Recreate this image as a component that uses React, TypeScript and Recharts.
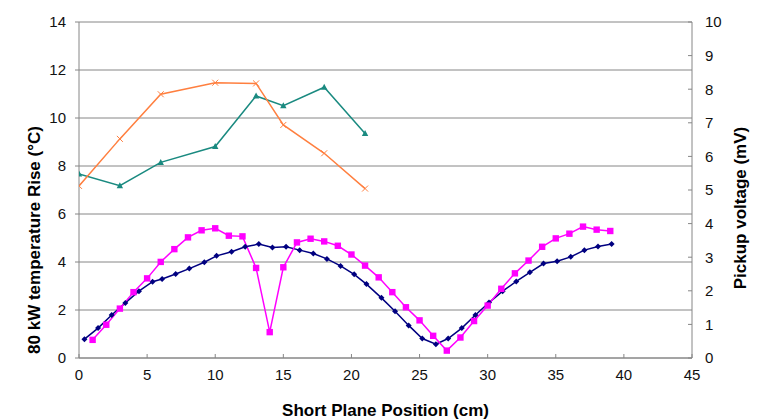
import { ComposedChart, Line, XAxis, YAxis, CartesianGrid } from "recharts";

// x positions (cm)
const tempX = [0, 3, 6, 10, 13, 15, 18, 21];
const orangeRise = [7.17, 9.13, 10.99, 11.47, 11.44, 9.71, 8.53, 7.06];
const tealRise = [7.67, 7.18, 8.15, 8.81, 10.92, 10.51, 11.28, 9.35];

const magentaX = [
  1, 2, 3, 4, 5, 6, 7, 8, 9, 10, 11, 12, 13, 14, 15, 16, 17, 18, 19, 20,
  21, 22, 23, 24, 25, 26, 27, 28, 29, 30, 31, 32, 33, 34, 35, 36, 37, 38, 39,
];
const magentaMv = [
  0.54, 0.99, 1.47, 1.96, 2.37, 2.86, 3.24, 3.59, 3.8, 3.86, 3.64, 3.62, 2.68,
  0.77, 2.7, 3.44, 3.55, 3.47, 3.34, 3.08, 2.75, 2.4, 1.96, 1.51, 1.12, 0.66,
  0.22, 0.61, 1.1, 1.56, 2.06, 2.52, 2.9, 3.31, 3.56, 3.7, 3.91, 3.82, 3.78,
];

const navyX = [
  0.4, 1.4, 2.4, 3.4, 4.4, 5.4, 6.1, 7.1, 8.1, 9.2, 10.1, 11.2, 12.2, 13.2,
  14.2, 15.2, 16.2, 17.2, 18.2, 19.2, 20.2, 21.1, 22.2, 23.2, 24.2, 25.2, 26.2,
  27.1, 28.1, 29.1, 30.1, 31.1, 32.1, 33.1, 34.1, 35.1, 36.1, 37.1, 38.1, 39.1,
];
const navyMv = [
  0.56, 0.89, 1.28, 1.64, 1.99, 2.27, 2.35, 2.5, 2.66, 2.85, 3.04, 3.16, 3.31,
  3.39, 3.29, 3.31, 3.21, 3.11, 2.95, 2.74, 2.49, 2.2, 1.79, 1.39, 0.97, 0.58,
  0.41, 0.58, 0.89, 1.28, 1.65, 1.99, 2.28, 2.55, 2.81, 2.88, 3.01, 3.21, 3.32,
  3.39,
];

const xTicks = [0, 5, 10, 15, 20, 25, 30, 35, 40, 45];
const leftTicks = [0, 2, 4, 6, 8, 10, 12, 14];
const rightTicks = [0, 1, 2, 3, 4, 5, 6, 7, 8, 9, 10];

const orangeData = tempX.map((x, i) => ({ x, y: orangeRise[i] }));
const tealData = tempX.map((x, i) => ({ x, y: tealRise[i] }));
const magentaData = magentaX.map((x, i) => ({ x, y: magentaMv[i] }));
const navyData = navyX.map((x, i) => ({ x, y: navyMv[i] }));

const font = "'Liberation Sans', Arial, sans-serif";
const tickStyle = { fontSize: 15, fill: "#111", fontFamily: font };
const titleStyle = { fontSize: 17, fontWeight: "bold", fontFamily: font, fill: "#000" };
const axisGray = "#868686";

const crossDot = (p: any) => {
  const { cx, cy, key } = p;
  if (cx == null || cy == null) return <g key={key} />;
  const s = 3;
  return (
    <path
      key={key}
      d={`M${cx - s},${cy - s}L${cx + s},${cy + s}M${cx - s},${cy + s}L${cx + s},${cy - s}`}
      stroke="#ff7f3f"
      strokeWidth={1}
      fill="none"
    />
  );
};

const triDot = (p: any) => {
  const { cx, cy, key } = p;
  if (cx == null || cy == null) return <g key={key} />;
  return (
    <path
      key={key}
      d={`M${cx},${cy - 3.5}L${cx + 3.2},${cy + 2.5}L${cx - 3.2},${cy + 2.5}Z`}
      fill="#1a8a80"
    />
  );
};

const squareDot = (p: any) => {
  const { cx, cy, key } = p;
  if (cx == null || cy == null) return <g key={key} />;
  return <rect key={key} x={cx - 3.2} y={cy - 3.2} width={6.4} height={6.4} fill="#ff00ff" />;
};

const diamondDot = (p: any) => {
  const { cx, cy, key } = p;
  if (cx == null || cy == null) return <g key={key} />;
  return (
    <path
      key={key}
      d={`M${cx},${cy - 3}L${cx + 3},${cy}L${cx},${cy + 3}L${cx - 3},${cy}Z`}
      fill="#000080"
    />
  );
};

const LeftTitle = (props: any) => {
  const { viewBox } = props;
  const x = viewBox.x + 34;
  const y = viewBox.y + viewBox.height / 2 + 50;
  return (
    <text
      x={x}
      y={y}
      transform={`rotate(-90, ${x}, ${y})`}
      textAnchor="middle"
      dominantBaseline="central"
      style={titleStyle}
    >
      80 kW temperature Rise (°C)
    </text>
  );
};

const RightTitle = (props: any) => {
  const { viewBox } = props;
  const x = viewBox.x + 48;
  const y = viewBox.y + viewBox.height / 2 + 18;
  return (
    <text
      x={x}
      y={y}
      transform={`rotate(-90, ${x}, ${y})`}
      textAnchor="middle"
      dominantBaseline="central"
      style={titleStyle}
    >
      Pickup voltage (mV)
    </text>
  );
};

const BottomTitle = (props: any) => {
  const { viewBox } = props;
  const x = viewBox.x + viewBox.width / 2;
  const y = viewBox.y + 52;
  return (
    <text x={x} y={y} textAnchor="middle" dominantBaseline="central" style={titleStyle}>
      Short Plane Position (cm)
    </text>
  );
};

export default function App() {
  return (
    <div
      style={{
        marginTop: -8,
        marginLeft: -8,
        width: 769,
        height: 419,
        background: "#fff",
      }}
    >
      <ComposedChart
        width={769}
        height={419}
        margin={{ top: 22, right: 0, bottom: 0, left: 0 }}
        style={{ overflow: "visible" }}
      >
        <CartesianGrid
          yAxisId="left"
          vertical={false}
          stroke={axisGray}
          strokeWidth={1}
        />
        <XAxis
          type="number"
          dataKey="x"
          domain={[0, 45]}
          ticks={xTicks}
          allowDataOverflow
          height={61}
          stroke={axisGray}
          tickSize={-4}
          tickMargin={15}
          tick={tickStyle}
          label={<BottomTitle />}
        />
        <YAxis
          yAxisId="left"
          type="number"
          domain={[0, 14]}
          ticks={leftTicks}
          width={79}
          stroke={axisGray}
          tickSize={4}
          tickMargin={9}
          tick={tickStyle}
          label={<LeftTitle />}
        />
        <YAxis
          yAxisId="right"
          orientation="right"
          type="number"
          domain={[0, 10]}
          ticks={rightTicks}
          width={77}
          stroke={axisGray}
          tickSize={-4}
          tickMargin={17}
          tick={{ ...tickStyle, textAnchor: "start" }}
          label={<RightTitle />}
        />
        <Line
          yAxisId="right"
          data={navyData}
          dataKey="y"
          stroke="#000080"
          strokeWidth={1.5}
          dot={diamondDot}
          activeDot={false}
          isAnimationActive={false}
        />
        <Line
          yAxisId="right"
          data={magentaData}
          dataKey="y"
          stroke="#ff00ff"
          strokeWidth={1.5}
          dot={squareDot}
          activeDot={false}
          isAnimationActive={false}
        />
        <Line
          yAxisId="left"
          data={tealData}
          dataKey="y"
          stroke="#1a8a80"
          strokeWidth={1.5}
          dot={triDot}
          activeDot={false}
          isAnimationActive={false}
        />
        <Line
          yAxisId="left"
          data={orangeData}
          dataKey="y"
          stroke="#ff7f3f"
          strokeWidth={1.5}
          dot={crossDot}
          activeDot={false}
          isAnimationActive={false}
        />
      </ComposedChart>
    </div>
  );
}
